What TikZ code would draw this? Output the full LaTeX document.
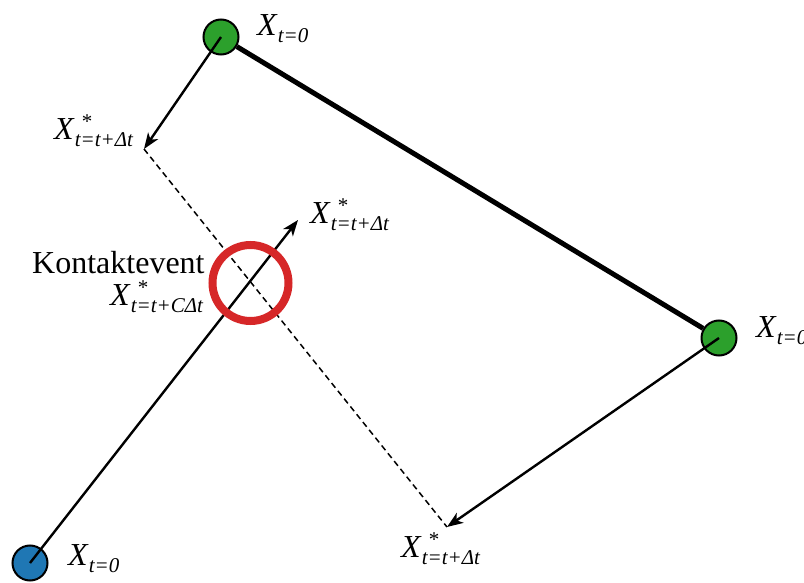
\documentclass[tikz,border=0pt]{standalone}
\usepackage{fontspec}
\setmainfont{Liberation Serif}
\usetikzlibrary{arrows.meta,backgrounds}
\definecolor{tgreen}{HTML}{2CA02C}
\definecolor{tblue}{HTML}{1F77B4}
\definecolor{tred}{HTML}{D62728}
\newcommand\subfont{\fontsize{21}{21}\selectfont}
\newcommand\Xz[1]{\textit{X}\raisebox{-7pt}{\subfont\textit{#1}}}
\newcommand\Xs[1]{\textit{X}\rlap{\kern 7pt\raisebox{11pt}{\subfont *}}\raisebox{-7pt}{\subfont\textit{#1}}}
\tikzset{
  pt/.style={circle, draw=black, line width=2pt, minimum size=35pt, inner sep=0pt},
  lbl/.style={anchor=base west, inner sep=0pt, font=\fontsize{32}{32}\selectfont},
  arr/.style={line width=2.4pt, -{Stealth[length=16pt,width=12pt,inset=4.5pt]}},
}
\begin{document}
\begin{tikzpicture}[x=1pt,y=-1pt]
\useasboundingbox (0,0) rectangle (804,583);
% nodes
\node[pt, fill=tgreen] (A) at (221,37) {};
\node[pt, fill=tgreen] (B) at (719,338) {};
\node[pt, fill=tblue] (C) at (30,563) {};
\coordinate (A1) at (144,149);
\coordinate (B1) at (447,527);
\coordinate (C1) at (298,220);
% thick connection behind the circles
\begin{scope}[on background layer]
\draw[line width=5pt] (A) -- (B);
\end{scope}
% dashed
\draw[line width=1.5pt, dash pattern=on 6pt off 4pt] (A1) -- (B1);
% arrows
\draw[arr] (A.center) -- (A1);
\draw[arr] (B.center) -- (B1);
\draw[arr] (C.center) -- (C1);
% contact circle
\node[circle, draw=tred, line width=8pt, minimum size=76pt, inner sep=0pt] (K) at (250.5,283) {};
% labels
\node[lbl] (LA) at (257,36) {\Xz{t=0}};
\node[lbl] (LB) at (756,337) {\Xz{t=0}};
\node[lbl] (LC) at (68,565) {\Xz{t=0}};
\node[lbl] (LA1) at (54,140) {\Xs{t=t+Δt}};
\node[lbl] (LC1) at (310,223) {\Xs{t=t+Δt}};
\node[lbl] (LB1) at (401,557) {\Xs{t=t+Δt}};
\node[lbl] (LK) at (32,273) {Kontaktevent};
\node[lbl] (LK2) at (110,305) {\Xs{t=t+CΔt}};
\end{tikzpicture}
\end{document}
